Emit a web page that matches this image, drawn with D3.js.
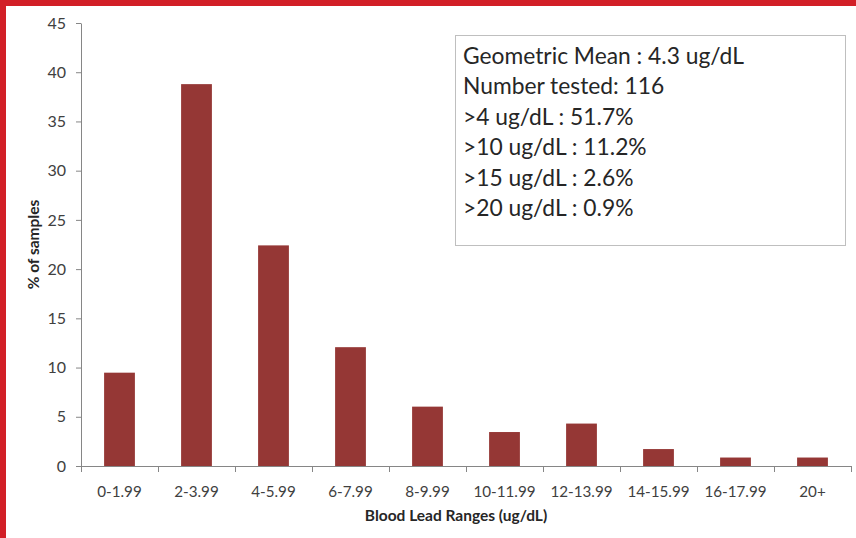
<!DOCTYPE html>
<html>
<head>
<meta charset="utf-8">
<script src="https://cdn.jsdelivr.net/npm/d3@7"></script>
<style>
  html, body { margin: 0; padding: 0; background: #fff; }
  svg { display: block; }
  text { font-family: Lato, "Open Sans", sans-serif; }
</style>
</head>
<body>
<svg id="chart" width="856" height="538"></svg>
<script>
// Blood lead distribution (percent of 116 samples per range)
const categories = ["0-1.99", "2-3.99", "4-5.99", "6-7.99", "8-9.99",
                    "10-11.99", "12-13.99", "14-15.99", "16-17.99", "20+"];
const percentSamples = [9.48, 38.79, 22.41, 12.07, 6.03, 3.45, 4.31, 1.72, 0.86, 0.86];
const yTicks = [0, 5, 10, 15, 20, 25, 30, 35, 40, 45];
const summaryLines = [
  "Geometric Mean : 4.3 ug/dL",
  "Number tested: 116",
  ">4 ug/dL : 51.7%",
  ">10 ug/dL : 11.2%",
  ">15 ug/dL : 2.6%",
  ">20 ug/dL : 0.9%"
];

const svg = d3.select("#chart");
const W = 856, H = 538;
const plot = { left: 81, right: 851, top: 23, bottom: 466 };

// red frame strips (top and left)
svg.append("rect").attr("x", 0).attr("y", 0).attr("width", W).attr("height", 6).attr("fill", "#d21f27");
svg.append("rect").attr("x", 0).attr("y", 0).attr("width", 6).attr("height", H).attr("fill", "#d21f27");

const x = d3.scaleBand().domain(categories).range([plot.left, plot.right]).paddingInner(0.6).paddingOuter(0.3);
const y = d3.scaleLinear().domain([0, 45]).range([plot.bottom, plot.top]);

// bars
svg.append("g").selectAll("rect").data(percentSamples).join("rect")
  .attr("x", (d, i) => x(categories[i]))
  .attr("y", d => y(d))
  .attr("width", x.bandwidth())
  .attr("height", d => y(0) - y(d))
  .attr("fill", "#953735");

// y axis
const yAxis = svg.append("g").attr("transform", `translate(${plot.left},0)`)
  .call(d3.axisLeft(y).tickValues(yTicks).tickSize(5).tickPadding(10).tickSizeOuter(0));
yAxis.select(".domain").attr("stroke", "#868686");
yAxis.selectAll(".tick line").attr("stroke", "#868686");
yAxis.selectAll(".tick text").attr("fill", "#404040").style("font-size", "16px");

// x axis: ticks at category boundaries
const step = x.step();
const boundaries = d3.range(categories.length + 1).map(i => plot.left + i * step);
const xg = svg.append("g");
xg.append("line").attr("x1", plot.left).attr("x2", plot.right)
  .attr("y1", plot.bottom + 0.5).attr("y2", plot.bottom + 0.5).attr("stroke", "#868686");
xg.selectAll("line.b").data(boundaries).join("line").attr("class", "b")
  .attr("x1", d => d + 0.5).attr("x2", d => d + 0.5)
  .attr("y1", plot.bottom).attr("y2", plot.bottom + 6).attr("stroke", "#868686");
xg.selectAll("text").data(categories).join("text")
  .attr("x", d => x(d) + x.bandwidth() / 2)
  .attr("y", 497)
  .attr("text-anchor", "middle")
  .attr("fill", "#404040")
  .style("font-size", "15.2px")
  .text(d => d);

// axis titles
svg.append("text")
  .attr("transform", `translate(39,${(plot.top + plot.bottom) / 2}) rotate(-90)`)
  .attr("text-anchor", "middle")
  .attr("fill", "#262626")
  .style("font-size", "15.5px").style("font-weight", "bold")
  .text("% of samples");
svg.append("text")
  .attr("x", 456).attr("y", 521)
  .attr("text-anchor", "middle")
  .attr("fill", "#262626")
  .style("font-size", "15.5px").style("font-weight", "bold")
  .text("Blood Lead Ranges (ug/dL)");

// summary box
svg.append("rect").attr("x", 455.5).attr("y", 35.5).attr("width", 390).attr("height", 210)
  .attr("fill", "#fff").attr("stroke", "#bfbfbf").attr("stroke-width", 1);
svg.append("g").selectAll("text").data(summaryLines).join("text")
  .attr("x", 463)
  .attr("y", (d, i) => 64 + i * 30.4)
  .attr("fill", "#262626")
  .style("font-size", "22.8px")
  .text(d => d);
</script>
</body>
</html>
